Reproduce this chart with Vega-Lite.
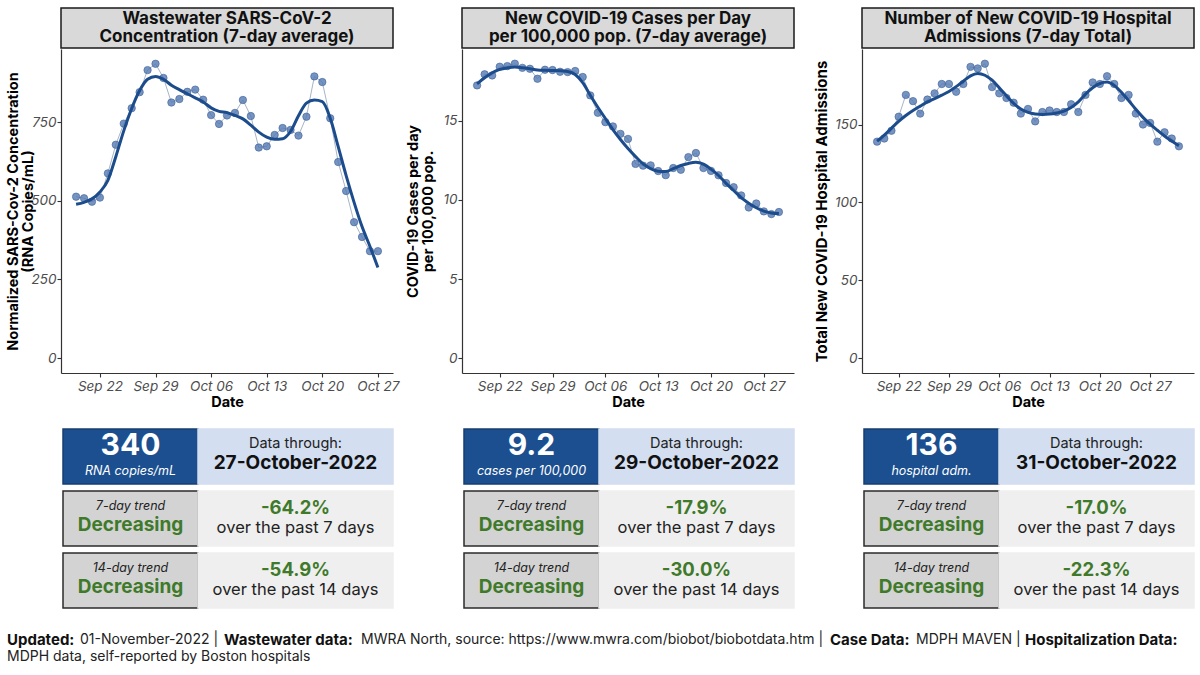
{
"$schema": "https://vega.github.io/schema/vega-lite/v6.json",
"background": "white",
"padding": {"left": 5, "top": 7, "right": 5, "bottom": 5},
"config": {
  "font": "Inter",
  "view": {"stroke": null},
  "axis": {"grid": false, "domainColor": "#333333", "domainWidth": 1.2, "tickColor": "#333333", "tickSize": 4, "tickWidth": 1.1,
    "labelFont": "Inter", "labelFontStyle": "italic", "labelColor": "#4d4d4d", "labelFontSize": 13.5,
    "titleFont": "Inter", "titleFontWeight": "bold", "titleFontSize": 14.5, "titleColor": "#000000", "titleLineHeight": 15},
  "axisX": {"labelPadding": 2, "titlePadding": 3, "labelFlush": false},
  "axisY": {"labelPadding": 1, "titlePadding": 5}
},
"datasets": {
  "ww": [
    {"date":"2022-09-19","value":513,"smooth":489},
    {"date":"2022-09-20","value":508,"smooth":495},
    {"date":"2022-09-21","value":497,"smooth":506},
    {"date":"2022-09-22","value":510,"smooth":528},
    {"date":"2022-09-23","value":587,"smooth":565},
    {"date":"2022-09-24","value":678,"smooth":640},
    {"date":"2022-09-25","value":745,"smooth":722},
    {"date":"2022-09-26","value":794,"smooth":793},
    {"date":"2022-09-27","value":845,"smooth":850},
    {"date":"2022-09-28","value":915,"smooth":886},
    {"date":"2022-09-29","value":935,"smooth":895},
    {"date":"2022-09-30","value":890,"smooth":886},
    {"date":"2022-10-01","value":812,"smooth":867},
    {"date":"2022-10-02","value":823,"smooth":853},
    {"date":"2022-10-03","value":846,"smooth":840},
    {"date":"2022-10-04","value":853,"smooth":827},
    {"date":"2022-10-05","value":821,"smooth":814},
    {"date":"2022-10-06","value":772,"smooth":795},
    {"date":"2022-10-07","value":744,"smooth":784},
    {"date":"2022-10-08","value":771,"smooth":780},
    {"date":"2022-10-09","value":779,"smooth":771},
    {"date":"2022-10-10","value":820,"smooth":760},
    {"date":"2022-10-11","value":769,"smooth":740},
    {"date":"2022-10-12","value":669,"smooth":718},
    {"date":"2022-10-13","value":673,"smooth":702},
    {"date":"2022-10-14","value":709,"smooth":695},
    {"date":"2022-10-15","value":731,"smooth":697},
    {"date":"2022-10-16","value":725,"smooth":720},
    {"date":"2022-10-17","value":707,"smooth":770},
    {"date":"2022-10-18","value":767,"smooth":810},
    {"date":"2022-10-19","value":895,"smooth":820},
    {"date":"2022-10-20","value":877,"smooth":815},
    {"date":"2022-10-21","value":762,"smooth":762},
    {"date":"2022-10-22","value":623,"smooth":672},
    {"date":"2022-10-23","value":531,"smooth":580},
    {"date":"2022-10-24","value":432,"smooth":495},
    {"date":"2022-10-25","value":385,"smooth":418},
    {"date":"2022-10-26","value":340,"smooth":355},
    {"date":"2022-10-27","value":340,"smooth":288}
  ],
  "cases": [
    {"date":"2022-09-19","value":17.24,"smooth":17.34},
    {"date":"2022-09-20","value":17.94,"smooth":17.72},
    {"date":"2022-09-21","value":17.87,"smooth":18.04},
    {"date":"2022-09-22","value":18.42,"smooth":18.25},
    {"date":"2022-09-23","value":18.46,"smooth":18.35},
    {"date":"2022-09-24","value":18.61,"smooth":18.40},
    {"date":"2022-09-25","value":18.35,"smooth":18.35},
    {"date":"2022-09-26","value":18.29,"smooth":18.29},
    {"date":"2022-09-27","value":17.66,"smooth":18.21},
    {"date":"2022-09-28","value":18.23,"smooth":18.19},
    {"date":"2022-09-29","value":18.21,"smooth":18.18},
    {"date":"2022-09-30","value":18.10,"smooth":18.17},
    {"date":"2022-10-01","value":18.08,"smooth":18.12},
    {"date":"2022-10-02","value":18.15,"smooth":17.93},
    {"date":"2022-10-03","value":17.77,"smooth":17.41},
    {"date":"2022-10-04","value":16.61,"smooth":16.62},
    {"date":"2022-10-05","value":15.51,"smooth":15.86},
    {"date":"2022-10-06","value":14.92,"smooth":15.15},
    {"date":"2022-10-07","value":14.65,"smooth":14.45},
    {"date":"2022-10-08","value":14.18,"smooth":13.82},
    {"date":"2022-10-09","value":13.86,"smooth":13.25},
    {"date":"2022-10-10","value":12.28,"smooth":12.74},
    {"date":"2022-10-11","value":12.17,"smooth":12.28},
    {"date":"2022-10-12","value":12.19,"smooth":11.98},
    {"date":"2022-10-13","value":11.83,"smooth":11.82},
    {"date":"2022-10-14","value":11.57,"smooth":11.80},
    {"date":"2022-10-15","value":12.02,"smooth":11.98},
    {"date":"2022-10-16","value":11.91,"smooth":12.18},
    {"date":"2022-10-17","value":12.71,"smooth":12.31},
    {"date":"2022-10-18","value":12.97,"smooth":12.38},
    {"date":"2022-10-19","value":12.02,"smooth":12.26},
    {"date":"2022-10-20","value":11.84,"smooth":11.95},
    {"date":"2022-10-21","value":11.56,"smooth":11.55},
    {"date":"2022-10-22","value":11.07,"smooth":11.05},
    {"date":"2022-10-23","value":10.81,"smooth":10.60},
    {"date":"2022-10-24","value":10.29,"smooth":10.15},
    {"date":"2022-10-25","value":9.53,"smooth":9.80},
    {"date":"2022-10-26","value":9.78,"smooth":9.51},
    {"date":"2022-10-27","value":9.28,"smooth":9.30},
    {"date":"2022-10-28","value":9.11,"smooth":9.18},
    {"date":"2022-10-29","value":9.24,"smooth":9.14}
  ],
  "hosp": [
    {"date":"2022-09-19","value":139,"smooth":139.3},
    {"date":"2022-09-20","value":141,"smooth":143.2},
    {"date":"2022-09-21","value":146,"smooth":147.6},
    {"date":"2022-09-22","value":155,"smooth":152.0},
    {"date":"2022-09-23","value":169,"smooth":155.8},
    {"date":"2022-09-24","value":165,"smooth":159.0},
    {"date":"2022-09-25","value":157,"smooth":161.8},
    {"date":"2022-09-26","value":166,"smooth":164.5},
    {"date":"2022-09-27","value":170,"smooth":166.6},
    {"date":"2022-09-28","value":176,"smooth":168.8},
    {"date":"2022-09-29","value":176,"smooth":171.2},
    {"date":"2022-09-30","value":171,"smooth":174.3},
    {"date":"2022-10-01","value":176,"smooth":177.8},
    {"date":"2022-10-02","value":187,"smooth":181.2},
    {"date":"2022-10-03","value":186,"smooth":182.7},
    {"date":"2022-10-04","value":189,"smooth":181.6},
    {"date":"2022-10-05","value":174,"smooth":178.4},
    {"date":"2022-10-06","value":170,"smooth":173.5},
    {"date":"2022-10-07","value":167,"smooth":168.4},
    {"date":"2022-10-08","value":164,"smooth":163.5},
    {"date":"2022-10-09","value":157,"smooth":160.0},
    {"date":"2022-10-10","value":160,"smooth":157.8},
    {"date":"2022-10-11","value":152,"smooth":156.8},
    {"date":"2022-10-12","value":158,"smooth":156.5},
    {"date":"2022-10-13","value":159,"smooth":156.7},
    {"date":"2022-10-14","value":158,"smooth":157.4},
    {"date":"2022-10-15","value":158,"smooth":158.6},
    {"date":"2022-10-16","value":163,"smooth":160.9},
    {"date":"2022-10-17","value":158,"smooth":164.5},
    {"date":"2022-10-18","value":169,"smooth":169.5},
    {"date":"2022-10-19","value":177,"smooth":173.6},
    {"date":"2022-10-20","value":176,"smooth":176.3},
    {"date":"2022-10-21","value":181,"smooth":177.2},
    {"date":"2022-10-22","value":176,"smooth":175.0},
    {"date":"2022-10-23","value":167,"smooth":170.6},
    {"date":"2022-10-24","value":169,"smooth":165.4},
    {"date":"2022-10-25","value":157,"smooth":159.8},
    {"date":"2022-10-26","value":150,"smooth":154.6},
    {"date":"2022-10-27","value":151,"smooth":150.2},
    {"date":"2022-10-28","value":139,"smooth":146.3},
    {"date":"2022-10-29","value":145,"smooth":142.6},
    {"date":"2022-10-30","value":141,"smooth":139.4},
    {"date":"2022-10-31","value":136,"smooth":136.4}
  ],
  "boxes": [
    {"panel":1,"kind":"cell","row":1,"col":0,"c0":0,"c1":1,"style":"value"},
    {"panel":1,"kind":"cell","row":1,"col":1,"c0":1,"c1":2,"style":"date"},
    {"panel":1,"kind":"cell","row":2,"col":0,"c0":0,"c1":1,"style":"trend"},
    {"panel":1,"kind":"cell","row":2,"col":1,"c0":1,"c1":2,"style":"pct"},
    {"panel":1,"kind":"cell","row":3,"col":0,"c0":0,"c1":1,"style":"trend"},
    {"panel":1,"kind":"cell","row":3,"col":1,"c0":1,"c1":2,"style":"pct"},
    {"panel":1,"kind":"big","row":1,"col":0,"text":"340"},
    {"panel":1,"kind":"unit","row":1,"col":0,"text":"RNA copies/mL"},
    {"panel":1,"kind":"through","row":1,"col":1,"text":"Data through:"},
    {"panel":1,"kind":"date","row":1,"col":1,"text":"27-October-2022"},
    {"panel":1,"kind":"trendLabel","row":2,"col":0,"text":"7-day trend"},
    {"panel":1,"kind":"trend","row":2,"col":0,"text":"Decreasing"},
    {"panel":1,"kind":"pct","row":2,"col":1,"text":"-64.2%"},
    {"panel":1,"kind":"over","row":2,"col":1,"text":"over the past 7 days"},
    {"panel":1,"kind":"trendLabel","row":3,"col":0,"text":"14-day trend"},
    {"panel":1,"kind":"trend","row":3,"col":0,"text":"Decreasing"},
    {"panel":1,"kind":"pct","row":3,"col":1,"text":"-54.9%"},
    {"panel":1,"kind":"over","row":3,"col":1,"text":"over the past 14 days"},
    {"panel":2,"kind":"cell","row":1,"col":0,"c0":0,"c1":1,"style":"value"},
    {"panel":2,"kind":"cell","row":1,"col":1,"c0":1,"c1":2,"style":"date"},
    {"panel":2,"kind":"cell","row":2,"col":0,"c0":0,"c1":1,"style":"trend"},
    {"panel":2,"kind":"cell","row":2,"col":1,"c0":1,"c1":2,"style":"pct"},
    {"panel":2,"kind":"cell","row":3,"col":0,"c0":0,"c1":1,"style":"trend"},
    {"panel":2,"kind":"cell","row":3,"col":1,"c0":1,"c1":2,"style":"pct"},
    {"panel":2,"kind":"big","row":1,"col":0,"text":"9.2"},
    {"panel":2,"kind":"unit","row":1,"col":0,"text":"cases per 100,000"},
    {"panel":2,"kind":"through","row":1,"col":1,"text":"Data through:"},
    {"panel":2,"kind":"date","row":1,"col":1,"text":"29-October-2022"},
    {"panel":2,"kind":"trendLabel","row":2,"col":0,"text":"7-day trend"},
    {"panel":2,"kind":"trend","row":2,"col":0,"text":"Decreasing"},
    {"panel":2,"kind":"pct","row":2,"col":1,"text":"-17.9%"},
    {"panel":2,"kind":"over","row":2,"col":1,"text":"over the past 7 days"},
    {"panel":2,"kind":"trendLabel","row":3,"col":0,"text":"14-day trend"},
    {"panel":2,"kind":"trend","row":3,"col":0,"text":"Decreasing"},
    {"panel":2,"kind":"pct","row":3,"col":1,"text":"-30.0%"},
    {"panel":2,"kind":"over","row":3,"col":1,"text":"over the past 14 days"},
    {"panel":3,"kind":"cell","row":1,"col":0,"c0":0,"c1":1,"style":"value"},
    {"panel":3,"kind":"cell","row":1,"col":1,"c0":1,"c1":2,"style":"date"},
    {"panel":3,"kind":"cell","row":2,"col":0,"c0":0,"c1":1,"style":"trend"},
    {"panel":3,"kind":"cell","row":2,"col":1,"c0":1,"c1":2,"style":"pct"},
    {"panel":3,"kind":"cell","row":3,"col":0,"c0":0,"c1":1,"style":"trend"},
    {"panel":3,"kind":"cell","row":3,"col":1,"c0":1,"c1":2,"style":"pct"},
    {"panel":3,"kind":"big","row":1,"col":0,"text":"136"},
    {"panel":3,"kind":"unit","row":1,"col":0,"text":"hospital adm."},
    {"panel":3,"kind":"through","row":1,"col":1,"text":"Data through:"},
    {"panel":3,"kind":"date","row":1,"col":1,"text":"31-October-2022"},
    {"panel":3,"kind":"trendLabel","row":2,"col":0,"text":"7-day trend"},
    {"panel":3,"kind":"trend","row":2,"col":0,"text":"Decreasing"},
    {"panel":3,"kind":"pct","row":2,"col":1,"text":"-17.0%"},
    {"panel":3,"kind":"over","row":2,"col":1,"text":"over the past 7 days"},
    {"panel":3,"kind":"trendLabel","row":3,"col":0,"text":"14-day trend"},
    {"panel":3,"kind":"trend","row":3,"col":0,"text":"Decreasing"},
    {"panel":3,"kind":"pct","row":3,"col":1,"text":"-22.3%"},
    {"panel":3,"kind":"over","row":3,"col":1,"text":"over the past 14 days"}
  ],
  "footer": [
    {"line":1,"seg":0,"bold":true,"text":"Updated:"},
    {"line":1,"seg":1,"bold":false,"text":"01-November-2022 |"},
    {"line":1,"seg":2,"bold":true,"text":"Wastewater data:"},
    {"line":1,"seg":3,"bold":false,"text":"MWRA North, source: https://www.mwra.com/biobot/biobotdata.htm |"},
    {"line":1,"seg":4,"bold":true,"text":"Case Data:"},
    {"line":1,"seg":5,"bold":false,"text":"MDPH MAVEN |"},
    {"line":1,"seg":6,"bold":true,"text":"Hospitalization Data:"},
    {"line":2,"seg":0,"bold":false,"text":"MDPH data, self-reported by Boston hospitals"}
  ]
},
"spacing": 18,
"vconcat": [
{
  "columns": 3,
  "align": "each",
  "spacing": {"row": 0, "column": 4},
  "concat": [
    {"width": 332, "height": 40, "data": {"values": [{}]},
     "view": {"fill": "#d9d9d9", "stroke": "#1a1a1a", "strokeWidth": 1.5},
     "layer": [
       {"mark": {"type": "text", "text": "Wastewater SARS-CoV-2", "fontSize": 17, "fontWeight": "bold", "align": "center", "baseline": "middle", "dy": -9.25, "color": "#111111"}},
       {"mark": {"type": "text", "text": "Concentration (7-day average)", "fontSize": 17, "fontWeight": "bold", "align": "center", "baseline": "middle", "dy": 9.25, "color": "#111111"}}
     ]},
    {"width": 332, "height": 40, "data": {"values": [{}]},
     "view": {"fill": "#d9d9d9", "stroke": "#1a1a1a", "strokeWidth": 1.5},
     "layer": [
       {"mark": {"type": "text", "text": "New COVID-19 Cases per Day", "fontSize": 17, "fontWeight": "bold", "align": "center", "baseline": "middle", "dy": -9.25, "color": "#111111"}},
       {"mark": {"type": "text", "text": "per 100,000 pop. (7-day average)", "fontSize": 17, "fontWeight": "bold", "align": "center", "baseline": "middle", "dy": 9.25, "color": "#111111"}}
     ]},
    {"width": 332, "height": 40, "data": {"values": [{}]},
     "view": {"fill": "#d9d9d9", "stroke": "#1a1a1a", "strokeWidth": 1.5},
     "layer": [
       {"mark": {"type": "text", "text": "Number of New COVID-19 Hospital", "fontSize": 17, "fontWeight": "bold", "align": "center", "baseline": "middle", "dy": -9.25, "color": "#111111"}},
       {"mark": {"type": "text", "text": "Admissions (7-day Total)", "fontSize": 17, "fontWeight": "bold", "align": "center", "baseline": "middle", "dy": 9.25, "color": "#111111"}}
     ]},
    {
      "width": 332, "height": 324,
      "data": {"name": "ww"},
      "encoding": {
        "x": {"field": "date", "type": "temporal",
          "scale": {"type": "utc", "domain": [{"year":2022,"month":9,"date":17,"hours":2,"minutes":24,"utc":true},{"year":2022,"month":10,"date":28,"hours":21,"minutes":36,"utc":true}]},
          "axis": {"title": "Date", "format": "%b %d", "values": [{"year":2022,"month":9,"date":22,"utc":true},{"year":2022,"month":9,"date":29,"utc":true},{"year":2022,"month":10,"date":6,"utc":true},{"year":2022,"month":10,"date":13,"utc":true},{"year":2022,"month":10,"date":20,"utc":true},{"year":2022,"month":10,"date":27,"utc":true}]}},
        "y": {"field": "value", "type": "quantitative", "scale": {"domain": [-47, 982], "nice": false, "zero": false},
          "axis": {"title": ["Normalized SARS-Cov-2 Concentration", "(RNA Copies/mL)"], "values": [0, 250, 500, 750], "titlePadding": -5}}
      },
      "layer": [
        {"mark": {"type": "line", "color": "#a9b4c6", "strokeWidth": 1}},
        {"mark": {"type": "circle", "size": 55, "fill": "#5479b3", "fillOpacity": 0.8, "stroke": "#3d5f96", "strokeWidth": 0.6}},
        {"mark": {"type": "line", "color": "#1c4c8c", "strokeWidth": 3, "interpolate": "monotone"},
         "encoding": {"y": {"field": "smooth", "type": "quantitative", "axis": {"title": ["Normalized SARS-Cov-2 Concentration", "(RNA Copies/mL)"], "values": [0, 250, 500, 750], "titlePadding": -5}}}}
      ]
    },
    {
      "width": 332, "height": 324,
      "data": {"name": "cases"},
      "encoding": {
        "x": {"field": "date", "type": "temporal",
          "scale": {"type": "utc", "domain": [{"year":2022,"month":9,"date":17,"utc":true},{"year":2022,"month":10,"date":31,"utc":true}]},
          "axis": {"title": "Date", "format": "%b %d", "values": [{"year":2022,"month":9,"date":22,"utc":true},{"year":2022,"month":9,"date":29,"utc":true},{"year":2022,"month":10,"date":6,"utc":true},{"year":2022,"month":10,"date":13,"utc":true},{"year":2022,"month":10,"date":20,"utc":true},{"year":2022,"month":10,"date":27,"utc":true}]}},
        "y": {"field": "value", "type": "quantitative", "scale": {"domain": [-0.93, 19.54], "nice": false, "zero": false},
          "axis": {"title": ["COVID-19 Cases per day", "per 100,000 pop."], "values": [0, 5, 10, 15], "titlePadding": 7}}
      },
      "layer": [
        {"mark": {"type": "line", "color": "#a9b4c6", "strokeWidth": 1}},
        {"mark": {"type": "circle", "size": 55, "fill": "#5479b3", "fillOpacity": 0.8, "stroke": "#3d5f96", "strokeWidth": 0.6}},
        {"mark": {"type": "line", "color": "#1c4c8c", "strokeWidth": 3, "interpolate": "monotone"},
         "encoding": {"y": {"field": "smooth", "type": "quantitative", "axis": {"title": ["COVID-19 Cases per day", "per 100,000 pop."], "values": [0, 5, 10, 15], "titlePadding": 7}}}}
      ]
    },
    {
      "width": 332, "height": 324,
      "data": {"name": "hosp"},
      "encoding": {
        "x": {"field": "date", "type": "temporal",
          "scale": {"type": "utc", "domain": [{"year":2022,"month":9,"date":16,"hours":21,"minutes":36,"utc":true},{"year":2022,"month":11,"date":2,"hours":2,"minutes":24,"utc":true}]},
          "axis": {"title": "Date", "format": "%b %d", "values": [{"year":2022,"month":9,"date":22,"utc":true},{"year":2022,"month":9,"date":29,"utc":true},{"year":2022,"month":10,"date":6,"utc":true},{"year":2022,"month":10,"date":13,"utc":true},{"year":2022,"month":10,"date":20,"utc":true},{"year":2022,"month":10,"date":27,"utc":true}]}},
        "y": {"field": "value", "type": "quantitative", "scale": {"domain": [-9.45, 198.45], "nice": false, "zero": false},
          "axis": {"title": "Total New COVID-19 Hospital Admissions", "values": [0, 50, 100, 150], "titlePadding": 5, "titleFontSize": 15}}
      },
      "layer": [
        {"mark": {"type": "line", "color": "#a9b4c6", "strokeWidth": 1}},
        {"mark": {"type": "circle", "size": 55, "fill": "#5479b3", "fillOpacity": 0.8, "stroke": "#3d5f96", "strokeWidth": 0.6}},
        {"mark": {"type": "line", "color": "#1c4c8c", "strokeWidth": 3, "interpolate": "monotone"},
         "encoding": {"y": {"field": "smooth", "type": "quantitative", "axis": {"title": "Total New COVID-19 Hospital Admissions", "values": [0, 50, 100, 150], "titlePadding": 5, "titleFontSize": 15}}}}
      ]
    },
    {
      "width": 340, "height": 199,
      "data": {"name": "boxes"},
      "transform": [{"filter": "datum.panel == 1"}],
      "resolve": {"scale": {"x": "independent"}},
      "encoding": {"y": {"field": "row", "type": "ordinal", "scale": {"domain": [1, 2, 3], "range": [20, 199], "paddingInner": 0.113, "paddingOuter": 0}, "axis": null}},
      "layer": [
        {"transform": [{"filter": "datum.kind == 'cell'"}],
         "mark": {"type": "rect", "strokeWidth": 1.5},
         "encoding": {
           "x": {"field": "c0", "type": "quantitative", "scale": {"domain": [0, 1, 2], "range": [2, 137, 332], "zero": false, "nice": false}, "axis": null},
           "x2": {"field": "c1"},
           "fill": {"field": "style", "type": "nominal", "scale": {"domain": ["value", "date", "trend", "pct"], "range": ["#1c4f8f", "#d3def1", "#d3d3d3", "#efefef"]}, "legend": null},
           "stroke": {"field": "style", "type": "nominal", "scale": {"domain": ["value", "date", "trend", "pct"], "range": ["#173f6f", "#d3def1", "#2b2b2b", "#efefef"]}, "legend": null}}},
        {"transform": [{"filter": "datum.kind == 'big'"}],
         "mark": {"type": "text", "fontSize": 30, "fontWeight": "bold", "color": "white", "dy": -10.5, "baseline": "middle"},
         "encoding": {"x": {"field": "col", "type": "quantitative", "scale": {"domain": [0, 1], "range": [69.5, 234.5], "zero": false, "nice": false}, "axis": null}, "text": {"field": "text"}}},
        {"transform": [{"filter": "datum.kind == 'unit'"}],
         "mark": {"type": "text", "fontSize": 12.5, "fontStyle": "italic", "color": "white", "dy": 15, "baseline": "middle"},
         "encoding": {"x": {"field": "col", "type": "quantitative", "scale": {"domain": [0, 1], "range": [69.5, 234.5], "zero": false, "nice": false}, "axis": null}, "text": {"field": "text"}}},
        {"transform": [{"filter": "datum.kind == 'through'"}],
         "mark": {"type": "text", "fontSize": 14.5, "color": "#222222", "dy": -12.5, "baseline": "middle"},
         "encoding": {"x": {"field": "col", "type": "quantitative", "scale": {"domain": [0, 1], "range": [69.5, 234.5], "zero": false, "nice": false}, "axis": null}, "text": {"field": "text"}}},
        {"transform": [{"filter": "datum.kind == 'date'"}],
         "mark": {"type": "text", "fontSize": 19, "fontWeight": "bold", "color": "#111111", "dy": 6.5, "baseline": "middle"},
         "encoding": {"x": {"field": "col", "type": "quantitative", "scale": {"domain": [0, 1], "range": [69.5, 234.5], "zero": false, "nice": false}, "axis": null}, "text": {"field": "text"}}},
        {"transform": [{"filter": "datum.kind == 'trendLabel'"}],
         "mark": {"type": "text", "fontSize": 12.5, "fontStyle": "italic", "color": "#222222", "dy": -12.5, "baseline": "middle"},
         "encoding": {"x": {"field": "col", "type": "quantitative", "scale": {"domain": [0, 1], "range": [69.5, 234.5], "zero": false, "nice": false}, "axis": null}, "text": {"field": "text"}}},
        {"transform": [{"filter": "datum.kind == 'trend'"}],
         "mark": {"type": "text", "fontSize": 19, "fontWeight": "bold", "color": "#3f7a2a", "dy": 6.5, "baseline": "middle"},
         "encoding": {"x": {"field": "col", "type": "quantitative", "scale": {"domain": [0, 1], "range": [69.5, 234.5], "zero": false, "nice": false}, "axis": null}, "text": {"field": "text"}}},
        {"transform": [{"filter": "datum.kind == 'pct'"}],
         "mark": {"type": "text", "fontSize": 18.5, "fontWeight": "bold", "color": "#3f7a2a", "dy": -10.5, "baseline": "middle"},
         "encoding": {"x": {"field": "col", "type": "quantitative", "scale": {"domain": [0, 1], "range": [69.5, 234.5], "zero": false, "nice": false}, "axis": null}, "text": {"field": "text"}}},
        {"transform": [{"filter": "datum.kind == 'over'"}],
         "mark": {"type": "text", "fontSize": 16.5, "color": "#222222", "dy": 9.5, "baseline": "middle"},
         "encoding": {"x": {"field": "col", "type": "quantitative", "scale": {"domain": [0, 1], "range": [69.5, 234.5], "zero": false, "nice": false}, "axis": null}, "text": {"field": "text"}}}
      ]
    },
    {
      "width": 348, "height": 199,
      "data": {"name": "boxes"},
      "transform": [{"filter": "datum.panel == 2"}],
      "resolve": {"scale": {"x": "independent"}},
      "encoding": {"y": {"field": "row", "type": "ordinal", "scale": {"domain": [1, 2, 3], "range": [20, 199], "paddingInner": 0.113, "paddingOuter": 0}, "axis": null}},
      "layer": [
        {"transform": [{"filter": "datum.kind == 'cell'"}],
         "mark": {"type": "rect", "strokeWidth": 1.5},
         "encoding": {
           "x": {"field": "c0", "type": "quantitative", "scale": {"domain": [0, 1, 2], "range": [2, 137, 332], "zero": false, "nice": false}, "axis": null},
           "x2": {"field": "c1"},
           "fill": {"field": "style", "type": "nominal", "scale": {"domain": ["value", "date", "trend", "pct"], "range": ["#1c4f8f", "#d3def1", "#d3d3d3", "#efefef"]}, "legend": null},
           "stroke": {"field": "style", "type": "nominal", "scale": {"domain": ["value", "date", "trend", "pct"], "range": ["#173f6f", "#d3def1", "#2b2b2b", "#efefef"]}, "legend": null}}},
        {"transform": [{"filter": "datum.kind == 'big'"}],
         "mark": {"type": "text", "fontSize": 30, "fontWeight": "bold", "color": "white", "dy": -10.5, "baseline": "middle"},
         "encoding": {"x": {"field": "col", "type": "quantitative", "scale": {"domain": [0, 1], "range": [69.5, 234.5], "zero": false, "nice": false}, "axis": null}, "text": {"field": "text"}}},
        {"transform": [{"filter": "datum.kind == 'unit'"}],
         "mark": {"type": "text", "fontSize": 12.5, "fontStyle": "italic", "color": "white", "dy": 15, "baseline": "middle"},
         "encoding": {"x": {"field": "col", "type": "quantitative", "scale": {"domain": [0, 1], "range": [69.5, 234.5], "zero": false, "nice": false}, "axis": null}, "text": {"field": "text"}}},
        {"transform": [{"filter": "datum.kind == 'through'"}],
         "mark": {"type": "text", "fontSize": 14.5, "color": "#222222", "dy": -12.5, "baseline": "middle"},
         "encoding": {"x": {"field": "col", "type": "quantitative", "scale": {"domain": [0, 1], "range": [69.5, 234.5], "zero": false, "nice": false}, "axis": null}, "text": {"field": "text"}}},
        {"transform": [{"filter": "datum.kind == 'date'"}],
         "mark": {"type": "text", "fontSize": 19, "fontWeight": "bold", "color": "#111111", "dy": 6.5, "baseline": "middle"},
         "encoding": {"x": {"field": "col", "type": "quantitative", "scale": {"domain": [0, 1], "range": [69.5, 234.5], "zero": false, "nice": false}, "axis": null}, "text": {"field": "text"}}},
        {"transform": [{"filter": "datum.kind == 'trendLabel'"}],
         "mark": {"type": "text", "fontSize": 12.5, "fontStyle": "italic", "color": "#222222", "dy": -12.5, "baseline": "middle"},
         "encoding": {"x": {"field": "col", "type": "quantitative", "scale": {"domain": [0, 1], "range": [69.5, 234.5], "zero": false, "nice": false}, "axis": null}, "text": {"field": "text"}}},
        {"transform": [{"filter": "datum.kind == 'trend'"}],
         "mark": {"type": "text", "fontSize": 19, "fontWeight": "bold", "color": "#3f7a2a", "dy": 6.5, "baseline": "middle"},
         "encoding": {"x": {"field": "col", "type": "quantitative", "scale": {"domain": [0, 1], "range": [69.5, 234.5], "zero": false, "nice": false}, "axis": null}, "text": {"field": "text"}}},
        {"transform": [{"filter": "datum.kind == 'pct'"}],
         "mark": {"type": "text", "fontSize": 18.5, "fontWeight": "bold", "color": "#3f7a2a", "dy": -10.5, "baseline": "middle"},
         "encoding": {"x": {"field": "col", "type": "quantitative", "scale": {"domain": [0, 1], "range": [69.5, 234.5], "zero": false, "nice": false}, "axis": null}, "text": {"field": "text"}}},
        {"transform": [{"filter": "datum.kind == 'over'"}],
         "mark": {"type": "text", "fontSize": 16.5, "color": "#222222", "dy": 9.5, "baseline": "middle"},
         "encoding": {"x": {"field": "col", "type": "quantitative", "scale": {"domain": [0, 1], "range": [69.5, 234.5], "zero": false, "nice": false}, "axis": null}, "text": {"field": "text"}}}
      ]
    },
    {
      "width": 332, "height": 199,
      "data": {"name": "boxes"},
      "transform": [{"filter": "datum.panel == 3"}],
      "resolve": {"scale": {"x": "independent"}},
      "encoding": {"y": {"field": "row", "type": "ordinal", "scale": {"domain": [1, 2, 3], "range": [20, 199], "paddingInner": 0.113, "paddingOuter": 0}, "axis": null}},
      "layer": [
        {"transform": [{"filter": "datum.kind == 'cell'"}],
         "mark": {"type": "rect", "strokeWidth": 1.5},
         "encoding": {
           "x": {"field": "c0", "type": "quantitative", "scale": {"domain": [0, 1, 2], "range": [2, 137, 332], "zero": false, "nice": false}, "axis": null},
           "x2": {"field": "c1"},
           "fill": {"field": "style", "type": "nominal", "scale": {"domain": ["value", "date", "trend", "pct"], "range": ["#1c4f8f", "#d3def1", "#d3d3d3", "#efefef"]}, "legend": null},
           "stroke": {"field": "style", "type": "nominal", "scale": {"domain": ["value", "date", "trend", "pct"], "range": ["#173f6f", "#d3def1", "#2b2b2b", "#efefef"]}, "legend": null}}},
        {"transform": [{"filter": "datum.kind == 'big'"}],
         "mark": {"type": "text", "fontSize": 30, "fontWeight": "bold", "color": "white", "dy": -10.5, "baseline": "middle"},
         "encoding": {"x": {"field": "col", "type": "quantitative", "scale": {"domain": [0, 1], "range": [69.5, 234.5], "zero": false, "nice": false}, "axis": null}, "text": {"field": "text"}}},
        {"transform": [{"filter": "datum.kind == 'unit'"}],
         "mark": {"type": "text", "fontSize": 12.5, "fontStyle": "italic", "color": "white", "dy": 15, "baseline": "middle"},
         "encoding": {"x": {"field": "col", "type": "quantitative", "scale": {"domain": [0, 1], "range": [69.5, 234.5], "zero": false, "nice": false}, "axis": null}, "text": {"field": "text"}}},
        {"transform": [{"filter": "datum.kind == 'through'"}],
         "mark": {"type": "text", "fontSize": 14.5, "color": "#222222", "dy": -12.5, "baseline": "middle"},
         "encoding": {"x": {"field": "col", "type": "quantitative", "scale": {"domain": [0, 1], "range": [69.5, 234.5], "zero": false, "nice": false}, "axis": null}, "text": {"field": "text"}}},
        {"transform": [{"filter": "datum.kind == 'date'"}],
         "mark": {"type": "text", "fontSize": 19, "fontWeight": "bold", "color": "#111111", "dy": 6.5, "baseline": "middle"},
         "encoding": {"x": {"field": "col", "type": "quantitative", "scale": {"domain": [0, 1], "range": [69.5, 234.5], "zero": false, "nice": false}, "axis": null}, "text": {"field": "text"}}},
        {"transform": [{"filter": "datum.kind == 'trendLabel'"}],
         "mark": {"type": "text", "fontSize": 12.5, "fontStyle": "italic", "color": "#222222", "dy": -12.5, "baseline": "middle"},
         "encoding": {"x": {"field": "col", "type": "quantitative", "scale": {"domain": [0, 1], "range": [69.5, 234.5], "zero": false, "nice": false}, "axis": null}, "text": {"field": "text"}}},
        {"transform": [{"filter": "datum.kind == 'trend'"}],
         "mark": {"type": "text", "fontSize": 19, "fontWeight": "bold", "color": "#3f7a2a", "dy": 6.5, "baseline": "middle"},
         "encoding": {"x": {"field": "col", "type": "quantitative", "scale": {"domain": [0, 1], "range": [69.5, 234.5], "zero": false, "nice": false}, "axis": null}, "text": {"field": "text"}}},
        {"transform": [{"filter": "datum.kind == 'pct'"}],
         "mark": {"type": "text", "fontSize": 18.5, "fontWeight": "bold", "color": "#3f7a2a", "dy": -10.5, "baseline": "middle"},
         "encoding": {"x": {"field": "col", "type": "quantitative", "scale": {"domain": [0, 1], "range": [69.5, 234.5], "zero": false, "nice": false}, "axis": null}, "text": {"field": "text"}}},
        {"transform": [{"filter": "datum.kind == 'over'"}],
         "mark": {"type": "text", "fontSize": 16.5, "color": "#222222", "dy": 9.5, "baseline": "middle"},
         "encoding": {"x": {"field": "col", "type": "quantitative", "scale": {"domain": [0, 1], "range": [69.5, 234.5], "zero": false, "nice": false}, "axis": null}, "text": {"field": "text"}}}
      ]
    }
  ]
},
{
  "width": 1130, "height": 36,
  "data": {"name": "footer"},
  "encoding": {
    "x": {"field": "seg", "type": "quantitative", "scale": {"domain": [0, 1, 2, 3, 4, 5, 6], "range": [-54, 19, 163, 300, 769, 855, 964], "zero": false, "nice": false}, "axis": null},
    "y": {"field": "line", "type": "ordinal", "scale": {"type": "point", "domain": [1, 2], "range": [13, 30], "padding": 0}, "axis": null},
    "text": {"field": "text"}
  },
  "layer": [
    {"transform": [{"filter": "datum.bold"}], "mark": {"type": "text", "align": "left", "baseline": "middle", "fontSize": 15, "fontWeight": "bold", "color": "#111111"}},
    {"transform": [{"filter": "!datum.bold"}], "mark": {"type": "text", "align": "left", "baseline": "middle", "fontSize": 14, "color": "#222222"}}
  ]
}
]
}
